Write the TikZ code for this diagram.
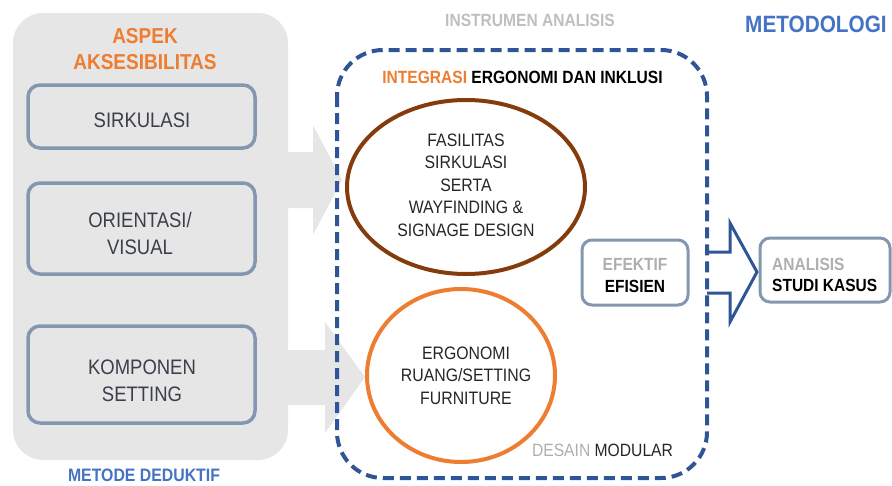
\documentclass[tikz,border=0pt]{standalone}
\usepackage{fontspec}
\setmainfont{Liberation Sans}[FakeStretch=0.88]
\usetikzlibrary{shapes.geometric}
\definecolor{panelgray}{HTML}{E7E6E6}
\definecolor{boxblue}{HTML}{8497B0}
\definecolor{textdark}{HTML}{3A3F4A}
\definecolor{accorange}{HTML}{ED7D31}
\definecolor{ringbrown}{HTML}{843C0C}
\definecolor{dashblue}{HTML}{2F5597}
\definecolor{titleblue}{HTML}{4472C4}
\definecolor{headgray}{HTML}{BFBFBF}
\definecolor{softgray}{HTML}{AFAFAF}
\definecolor{inktext}{HTML}{262626}
\tikzset{
  panel/.style={fill=panelgray, rounded corners=30pt},
  grayarrow/.style={fill=panelgray, draw=none},
  aspectbox/.style={draw=boxblue, line width=3.5pt, rounded corners=12pt, fill=panelgray, minimum width=227pt, inner sep=0pt},
  boxtext/.style={text=textdark, align=center, inner sep=0pt, font=\fontsize{21}{27}\selectfont},
  headtext/.style={inner sep=0pt, font=\bfseries\fontsize{17.7}{21}\selectfont},
  ringtext/.style={text=inktext, align=center, inner sep=0pt, font=\fontsize{18}{22.5}\selectfont},
  dashrect/.style={draw=dashblue, line width=4pt, dash pattern=on 11pt off 6pt, rounded corners=46pt},
  resultbox/.style={draw=boxblue, line width=3pt, rounded corners=10pt, fill=white, inner sep=0pt},
  smalltwo/.style={inner sep=0pt, font=\bfseries\fontsize{17.6}{21.5}\selectfont},
}
\begin{document}
\begin{tikzpicture}[x=1pt,y=-1pt]
\useasboundingbox (0,0) rectangle (892,485);
% left panel
\fill[panel] (13,13) rectangle (288,460);
% gray block arrows
\fill[grayarrow] (280,152) -- (313,152) -- (313,125) -- (342,180) -- (313,235) -- (313,208) -- (280,208) -- cycle;
\fill[grayarrow] (280,350) -- (325,350) -- (325,322) -- (365,377) -- (325,433) -- (325,405) -- (280,405) -- cycle;
% panel title
\node[inner sep=0pt, text=accorange, align=center, font=\bfseries\fontsize{21.6}{26.7}\selectfont] (aspek) at (145,49) {ASPEK\\AKSESIBILITAS};
% aspect boxes
\node[aspectbox, minimum height=63pt] (sirk) at (141.5,116.5) {};
\node[boxtext] (sirkt) at (142,120) {SIRKULASI};
\node[aspectbox, minimum height=91pt] (orie) at (141.5,228.5) {};
\node[boxtext] (oriet) at (140,233.5) {ORIENTASI/\\VISUAL};
\node[aspectbox, minimum height=97pt] (komp) at (141.5,374.5) {};
\node[boxtext] (kompt) at (142,380.5) {KOMPONEN\\SETTING};
\node[inner sep=0pt, text=titleblue, font=\bfseries\fontsize{18}{21}\selectfont] (deduk) at (144,475) {METODE DEDUKTIF};
% headers
\node[headtext, text=headgray] (instr) at (530,20) {INSTRUMEN ANALISIS};
\node[inner sep=0pt, anchor=west, text=titleblue, font=\bfseries\fontsize{23.6}{27}\selectfont] (metod) at (745,24) {METODOLOGI};
% big outline arrow
\draw[dashblue, line width=3pt, fill=white, line join=miter] (707,252) -- (730,252) -- (730,223) -- (757,272) -- (730,322) -- (730,293) -- (707,293);
% dashed frame
\draw[dashrect] (337,50) rectangle (707,478);
\node[headtext] (integ) at (522.5,77) {\textcolor{accorange}{INTEGRASI} ERGONOMI DAN INKLUSI};
% rings
\node[ellipse, draw=ringbrown, line width=4pt, fill=white, minimum width=238pt, minimum height=174pt, inner sep=0pt] (fas) at (466,187) {};
\node[ringtext] (fast) at (466,185) {FASILITAS\\SIRKULASI\\SERTA\\WAYFINDING \&\\SIGNAGE DESIGN};
\node[ellipse, draw=accorange, line width=4pt, fill=white, minimum width=188pt, minimum height=173pt, inner sep=0pt] (ergo) at (461,375.5) {};
\node[ringtext] (ergot) at (466,375.5) {ERGONOMI\\RUANG/SETTING\\FURNITURE};
\node[inner sep=0pt, font=\fontsize{17.8}{21}\selectfont] (desain) at (602.5,450) {\textcolor{softgray}{DESAIN} \textcolor{inktext}{MODULAR}};
% result boxes
\node[resultbox, minimum width=106pt, minimum height=65pt] (efek) at (635,272.5) {};
\node[smalltwo, align=center] (efekt) at (635,275.5) {\textcolor{softgray}{EFEKTIF}\\EFISIEN};
\node[resultbox, minimum width=130pt, minimum height=64pt] (anal) at (825,270) {};
\node[smalltwo, align=left, anchor=west] (analt) at (772,275) {\textcolor{softgray}{ANALISIS}\\STUDI KASUS};
\end{tikzpicture}
\end{document}
